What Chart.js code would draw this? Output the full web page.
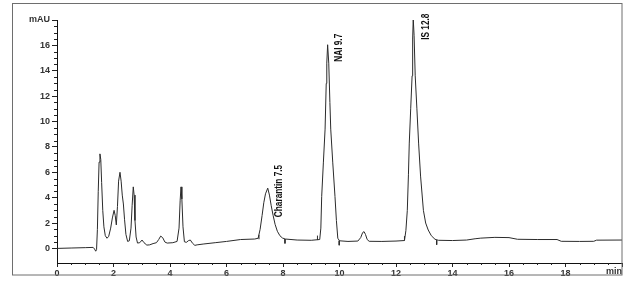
<!DOCTYPE html>
<html>
<head>
<meta charset="utf-8">
<script src="https://cdn.jsdelivr.net/npm/chart.js@4.4.1/dist/chart.umd.min.js"></script>
<style>
  body { margin: 0; background: #fff; }
  canvas { display: block; }
</style>
</head>
<body>
<canvas id="chroma" width="630" height="284"></canvas>
<script>
// retention time (min) and detector signal (mAU)
var times = [0.00, 0.50, 1.00, 1.28, 1.33, 1.37, 1.40, 1.43, 1.46, 1.49, 1.52, 1.55, 1.58, 1.62, 1.66, 1.71, 1.77, 1.83, 1.90, 1.96,
  2.02, 2.06, 2.10, 2.14, 2.18, 2.23, 2.27, 2.31, 2.35, 2.39, 2.44, 2.50, 2.56, 2.62, 2.66, 2.70, 2.73, 2.76, 2.80, 2.85,
  2.93, 3.01, 3.08, 3.18, 3.28, 3.40, 3.52, 3.60, 3.67, 3.74, 3.82, 3.90, 4.10, 4.25, 4.32, 4.36, 4.39, 4.42, 4.46, 4.51,
  4.58, 4.66, 4.72, 4.80, 4.88, 4.96, 5.20, 5.60, 6.00, 6.50, 7.00, 7.12, 7.19, 7.26, 7.32, 7.38, 7.46, 7.52, 7.58, 7.65,
  7.72, 7.80, 7.89, 7.98, 8.08, 8.50, 9.00, 9.30, 9.34, 9.37, 9.43, 9.49, 9.53, 9.55, 9.58, 9.62, 9.66, 9.69, 9.76, 9.84,
  9.89, 9.94, 10.00, 10.30, 10.65, 10.75, 10.82, 10.87, 10.92, 10.98, 11.05, 11.50, 12.00, 12.30, 12.35, 12.40, 12.44, 12.47, 12.52, 12.57,
  12.59, 12.61, 12.64, 12.68, 12.74, 12.80, 12.87, 12.97, 13.05, 13.14, 13.25, 13.38, 13.50, 14.00, 14.50, 14.80, 15.00, 15.50, 16.00, 16.30,
  17.00, 17.70, 17.85, 18.50, 19.00, 19.10, 20.00];
var signal = [0.00, 0.03, 0.06, 0.08, -0.05, -0.22, -0.10, 1.5, 4.5, 6.8, 7.45, 7.0, 5.2, 3.0, 1.7, 1.0, 0.80, 0.95, 1.6, 2.4,
  3.0, 2.6, 1.85, 3.3, 5.3, 6.0, 5.3, 4.2, 3.5, 2.3, 1.1, 0.55, 0.6, 1.6, 3.4, 4.85, 4.2, 2.2, 0.9, 0.42,
  0.45, 0.66, 0.45, 0.26, 0.28, 0.38, 0.45, 0.7, 0.97, 0.85, 0.5, 0.42, 0.45, 0.55, 1.6, 3.8, 4.85, 3.9, 1.7, 0.52,
  0.48, 0.62, 0.66, 0.4, 0.24, 0.28, 0.35, 0.45, 0.55, 0.70, 0.74, 0.80, 1.5, 2.6, 3.6, 4.3, 4.75, 4.2, 3.4, 2.6,
  1.9, 1.35, 1.0, 0.82, 0.74, 0.66, 0.64, 0.70, 1.6, 4.1, 6.8, 9.4, 13.0, 14.6, 16.05, 14.6, 11.5, 9.4, 6.8, 4.1,
  2.2, 0.8, 0.6, 0.55, 0.58, 0.85, 1.25, 1.32, 1.1, 0.7, 0.56, 0.55, 0.58, 0.62, 1.4, 3.0, 5.8, 8.3, 11.0, 13.6,
  16.5, 18.1, 16.8, 13.6, 11.0, 8.3, 5.7, 3.0, 2.0, 1.45, 1.0, 0.72, 0.64, 0.62, 0.66, 0.76, 0.81, 0.87, 0.85, 0.72,
  0.70, 0.70, 0.56, 0.55, 0.56, 0.65, 0.66];

// integration start / end marks
var markStarts = [7.15, 9.22, 12.30];
var markEnds = [8.07, 9.99, 13.44];
var markBase = [0.72, 0.66, 0.62];
var markBaseEnd = [0.74, 0.60, 0.64];

// peak labels
var peakNames = ['Charantin 7.5', 'NAI 9.7', 'IS 12.8'];
var peakTimes = [7.46, 9.58, 12.61];
var peakHeights = [4.75, 16.05, 18.1];

var xTicks = [0, 2, 4, 6, 8, 10, 12, 14, 16, 18, 20];
var yTicks = [0, 2, 4, 6, 8, 10, 12, 14, 16, 18];

function buildTrace() {
  var pts = [];
  for (var i = 0; i < times.length; i++) {
    pts.push({ x: times[i], y: signal[i] });
  }
  return pts;
}

function buildMarks() {
  var pts = [];
  for (var i = 0; i < markStarts.length; i++) {
    pts.push({ x: markStarts[i], y: markBase[i] });
    pts.push({ x: markStarts[i], y: markBase[i] + 0.35 });
    pts.push({ x: markStarts[i] + 0.01, y: null });
    pts.push({ x: markEnds[i], y: markBaseEnd[i] });
    pts.push({ x: markEnds[i], y: markBaseEnd[i] - 0.35 });
    pts.push({ x: markEnds[i] + 0.01, y: null });
  }
  return pts;
}

var labelFont = 'bold 11px "Liberation Sans", Arial, sans-serif';
var tickFont = { family: '"Liberation Sans", Arial, sans-serif', size: 9, weight: 'bold' };

// frame, minor ticks, "min" unit and rotated peak names
var extras = {
  id: 'extras',
  afterDraw: function(chart) {
    var ctx = chart.ctx;
    var xs = chart.scales.x, ys = chart.scales.y;
    var area = chart.chartArea;
    ctx.save();

    ctx.strokeStyle = '#6e6e6e';
    ctx.lineWidth = 1;
    ctx.strokeRect(12.5, 3.5, 609.5, 271.5);

    ctx.strokeStyle = '#222';
    ctx.beginPath();
    for (var v = 0.5; v < 18; v += 0.5) {
      if (v % 2 === 0) continue;
      var py = Math.round(ys.getPixelForValue(v)) + 0.5;
      ctx.moveTo(area.left - 3, py);
      ctx.lineTo(area.left, py);
    }
    for (var t = 0.5; t < 20; t += 0.5) {
      if (t % 2 === 0) continue;
      var px = Math.round(xs.getPixelForValue(t)) + 0.5;
      ctx.moveTo(px, area.bottom);
      ctx.lineTo(px, area.bottom + 2);
    }
    ctx.stroke();

    ctx.fillStyle = '#333';
    ctx.font = 'bold 9px "Liberation Sans", Arial, sans-serif';
    ctx.textAlign = 'right';
    ctx.textBaseline = 'middle';
    ctx.fillText('min', area.right, area.bottom + 9);

    var offX = [11.5, 11, 12.5];
    var offY = [29, 17, 21];
    ctx.fillStyle = '#111';
    ctx.font = labelFont;
    ctx.textAlign = 'left';
    for (var i = 0; i < peakNames.length; i++) {
      var lx = xs.getPixelForValue(peakTimes[i]) + offX[i];
      var ly = ys.getPixelForValue(peakHeights[i]) + offY[i];
      ctx.save();
      ctx.translate(lx, ly);
      ctx.rotate(-Math.PI / 2);
      ctx.scale(0.75, 1);
      ctx.fillText(peakNames[i], 0, 0);
      ctx.restore();
    }
    ctx.restore();
  }
};

function createChart(id) {
  var ctx = document.getElementById(id);
  var chart = new Chart(ctx, {
    type: 'line',
    data: {
      datasets: [
        { data: buildTrace(), borderColor: '#2b2b2b', borderWidth: 1, pointRadius: 0, tension: 0 },
        { data: buildMarks(), borderColor: '#2b2b2b', borderWidth: 1, pointRadius: 0, spanGaps: false }
      ]
    },
    options: {
      responsive: false,
      animation: false,
      events: [],
      layout: { padding: { left: 0, right: 8, top: 20, bottom: 0 } },
      plugins: { legend: { display: false }, tooltip: { enabled: false } },
      scales: {
        x: {
          type: 'linear',
          min: 0,
          max: 20,
          afterBuildTicks: function(s) { s.ticks = xTicks.map(function(v) { return { value: v }; }); },
          afterFit: function(s) { s.height = 21; },
          ticks: {
            autoSkip: false,
            maxRotation: 0,
            padding: 1,
            color: '#333',
            font: tickFont,
            callback: function(v) { return v === 20 ? '' : v; }
          },
          grid: { drawOnChartArea: false, tickLength: 4, color: '#222' },
          border: { color: '#111', width: 1 }
        },
        y: {
          min: -1.15,
          max: 18,
          afterBuildTicks: function(s) { s.ticks = yTicks.map(function(v) { return { value: v }; }); },
          afterFit: function(s) { s.width = 57; },
          ticks: {
            autoSkip: false,
            padding: 2,
            color: '#333',
            font: tickFont,
            callback: function(v) { return v === 18 ? 'mAU' : v; }
          },
          grid: { drawOnChartArea: false, tickLength: 5, color: '#222' },
          border: { color: '#111', width: 1 }
        }
      }
    },
    plugins: [extras]
  });
  return chart;
}

createChart('chroma');
</script>
</body>
</html>
